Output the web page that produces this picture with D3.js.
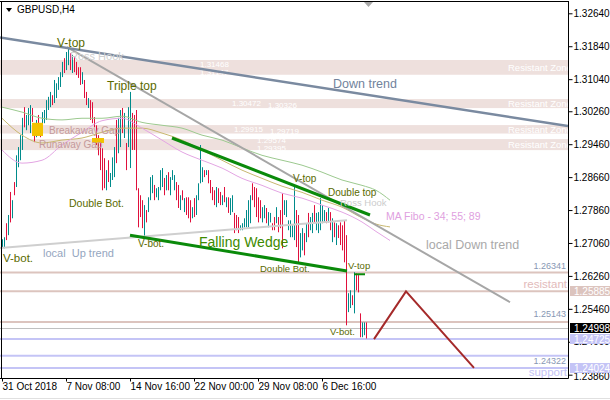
<!DOCTYPE html>
<html><head><meta charset="utf-8">
<script src="https://cdn.jsdelivr.net/npm/d3@7"></script>
<style>
body{margin:0;background:#fff}
svg{display:block;font-family:"Liberation Sans",Arial,sans-serif}
</style></head>
<body><svg id="c" width="610" height="400"></svg>
<script>
// ---------------- DATA ----------------
const highs=[1.2715,1.2720,1.2754,1.2774,1.2830,1.2810,1.2854,1.2919,1.2939,1.2968,
1.3010,1.3036,1.3017,1.3034,1.3041,1.3034,1.2997,1.3005,1.3017,1.2992,
1.3024,1.3029,1.3053,1.3061,1.3073,1.3065,1.3102,1.3094,1.3109,1.3121,
1.3146,1.3155,1.3170,1.3180,1.3167,1.3163,1.3158,1.3146,1.3133,1.3133,
1.3121,1.3102,1.3073,1.3058,1.3053,1.3048,1.3012,1.2992,1.2968,1.2956,
1.2936,1.2912,1.2883,1.2907,1.2876,1.2914,1.2939,1.3005,1.3010,1.3029,
1.3034,1.3022,1.2949,1.3036,1.3073,1.3022,1.3017,1.3029,1.2839,1.2822,
1.2810,1.2798,1.2786,1.2817,1.2866,1.2871,1.2847,1.2839,1.2842,1.2883,
1.2888,1.2864,1.2871,1.2878,1.2866,1.2883,1.2871,1.2854,1.2847,1.2822,
1.2834,1.2815,1.2817,1.2817,1.2810,1.2793,1.2815,1.2822,1.2851,1.2944,
1.2890,1.2883,1.2883,1.2883,1.2859,1.2842,1.2834,1.2842,1.2839,1.2830,
1.2822,1.2842,1.2817,1.2817,1.2815,1.2822,1.2779,1.2774,1.2769,1.2749,
1.2754,1.2766,1.2786,1.2810,1.2822,1.2851,1.2842,1.2839,1.2817,1.2810,
1.2793,1.2798,1.2791,1.2781,1.2779,1.2754,1.2769,1.2793,1.2769,1.2786,
1.2827,1.2810,1.2810,1.2761,1.2761,1.2749,1.2844,1.2786,1.2774,1.2730,
1.2742,1.2730,1.2754,1.2779,1.2769,1.2779,1.2798,1.2779,1.2781,1.2815,
1.2798,1.2786,1.2781,1.2791,1.2781,1.2766,1.2756,1.2754,1.2749,1.2756,
1.2749,1.2761,1.2725,1.2584,1.2591,1.2579,1.2635,1.2632,1.2628,1.2535,
1.2513,1.2513,1.2513];
const lows=[1.2696,1.2693,1.2713,1.2725,1.2756,1.2766,1.2822,1.2842,1.2890,1.2907,
1.2932,1.2987,1.2980,1.2992,1.2973,1.3000,1.2951,1.2963,1.2980,1.2963,
1.2968,1.2997,1.3005,1.3029,1.3036,1.3041,1.3046,1.3058,1.3078,1.3085,
1.3109,1.3119,1.3126,1.3138,1.3126,1.3119,1.3121,1.3114,1.3107,1.3090,
1.3092,1.3058,1.3041,1.3034,1.3005,1.2997,1.2987,1.2944,1.2919,1.2883,
1.2834,1.2839,1.2834,1.2854,1.2842,1.2859,1.2866,1.2900,1.2924,1.2939,
1.2973,1.2961,1.2883,1.2939,1.2888,1.2932,1.2932,1.2834,1.2744,1.2769,
1.2742,1.2723,1.2756,1.2781,1.2810,1.2827,1.2810,1.2817,1.2810,1.2834,
1.2842,1.2822,1.2834,1.2834,1.2822,1.2859,1.2834,1.2810,1.2791,1.2786,
1.2810,1.2781,1.2774,1.2766,1.2756,1.2766,1.2769,1.2774,1.2810,1.2851,
1.2854,1.2866,1.2871,1.2851,1.2827,1.2810,1.2798,1.2793,1.2803,1.2798,
1.2798,1.2805,1.2793,1.2779,1.2774,1.2781,1.2730,1.2737,1.2730,1.2737,
1.2737,1.2744,1.2744,1.2744,1.2754,1.2810,1.2793,1.2769,1.2756,1.2766,
1.2756,1.2766,1.2754,1.2744,1.2756,1.2737,1.2737,1.2754,1.2732,1.2742,
1.2693,1.2774,1.2769,1.2737,1.2720,1.2720,1.2713,1.2696,1.2659,1.2671,
1.2688,1.2676,1.2708,1.2720,1.2737,1.2730,1.2754,1.2737,1.2730,1.2737,
1.2754,1.2756,1.2754,1.2756,1.2737,1.2708,1.2720,1.2701,1.2718,1.2701,
1.2688,1.2659,1.2506,1.2538,1.2548,1.2555,1.2535,1.2591,1.2586,1.2477,
1.2477,1.2482,1.2474];
const dirs=("uudududuuu"+"uduuuddudd"+"uuuuuduuuu"+"uduududddd"+"uddudddddd"+
"dduduuuduu"+"duduuddddd"+"duduuuduuu"+"ududuuuddu"+"duddduduuu"+
"ududdddudd"+"ududuudddu"+"uuuuuddddd"+"uuduuddudd"+"duuuuuuddu"+
"ududuuduuu"+"uududududd"+"ddduududdd"+"uud").split("");

// moving averages: bar index -> value
const maIdx =[0,10,20,30,40,50,60,70,80,90,100,110,120,130,140,150,160,170,180,187,194];
const ma34  =[1.2932,1.2900,1.2907,1.2944,1.2975,1.3003,1.3009,1.2985,1.2956,1.2927,1.2907,1.2888,1.2863,1.2846,1.2827,1.2815,1.2798,1.2781,1.2757,1.2734,1.2712];
const ma55  =[1.3009,1.2968,1.2949,1.2956,1.2961,1.2975,1.2985,1.2985,1.2973,1.2956,1.2932,1.2907,1.2883,1.2863,1.2844,1.2829,1.2810,1.2793,1.2767,1.2752,1.2745];
const ma89  =[1.3036,1.3024,1.3009,1.3005,1.3009,1.3009,1.3014,1.2999,1.2992,1.2985,1.2968,1.2956,1.2937,1.2919,1.2907,1.2895,1.2878,1.2859,1.2846,1.2834,1.2810];

const yTicks=[1.32640,1.31840,1.31040,1.30260,1.29460,1.28660,1.27860,1.27060,1.26260,1.25460,1.24660,1.23860];
const xTickIdx=[0,32,64,96,128,160];
const xTickLabels=["31 Oct 2018","7 Nov 08:00","14 Nov 16:00","22 Nov 00:00","29 Nov 08:00","6 Dec 16:00"];

const zones=[[1.31147,1.31505],[1.30337,1.30556],[1.29719,1.29924],[1.29316,1.29584]];
// zone price labels: text, bar index of left edge, price, vertical nudge
const zoneLabels=[["1.31468",99,1.31468,5],["1.31147",99,1.31147,0],["1.30472",115,1.30472,3],["1.30326",133,1.30326,-1],
  ["1.29915",116,1.29915,7],["1.29719",134,1.29719,0],["1.29574",127.5,1.29574,3.5],["1.29395",127.5,1.29395,4]];
const pinkLevels=[1.26341,1.25885,1.25143];
const blueLevels=[1.24725,1.24322,1.24024];
const lastPrice=1.24998;

// trend lines [i1,p1,i2,p2]
const downTrend=[-1,1.3205,283,1.2990];
const localDown=[32.5,1.3182,254,1.2562];
const localUp=[-1,1.2694,172.5,1.2761];
const wedgeTop=[85,1.2961,184,1.2774];
const wedgeBot=[64,1.2725,172.5,1.2638];
const vtopLine=[176,1.2630,181.5,1.2630];
const zigIdx=[186,202,236];
const zigVal=[1.24725,1.25885,1.24024];

// ---------------- CHART ----------------
const svg=d3.select("#c");
const W=568, TOP=1.5, BOT=378;
const x=d3.scaleLinear().domain([0,183]).range([2,368]);
const y=d3.scaleLinear().domain([1.2386,1.3264]).range([374.7,13.3]);

svg.append("defs").append("clipPath").attr("id","plot").append("rect")
  .attr("x",0).attr("y",TOP).attr("width",W).attr("height",BOT-TOP);
const g=svg.append("g").attr("clip-path","url(#plot)");

// zones
g.selectAll(".zone").data(zones).join("rect")
  .attr("x",0).attr("width",W)
  .attr("y",d=>y(d[1])).attr("height",d=>y(d[0])-y(d[1]))
  .attr("fill","#eee0dd");
g.selectAll(".zl").data(zoneLabels).join("text")
  .attr("x",d=>x(d[1])).attr("y",d=>y(d[2])+d[3])
  .attr("font-size",8).attr("fill","#fff").text(d=>d[0]);
g.selectAll(".rz").data(zones).join("text")
  .attr("x",508).attr("y",d=>(y(d[0])+y(d[1]))/2+3.5)
  .attr("font-size",9.5).attr("fill","#fff").text("Resistant Zone");

// horizontal levels
g.selectAll(".pl").data(pinkLevels).join("line")
  .attr("x1",0).attr("x2",W).attr("y1",d=>y(d)).attr("y2",d=>y(d))
  .attr("stroke","#dcc4be").attr("stroke-width",2);
g.selectAll(".bl").data(blueLevels).join("line")
  .attr("x1",0).attr("x2",W).attr("y1",d=>y(d)).attr("y2",d=>y(d))
  .attr("stroke","#c4c4f6").attr("stroke-width",2);
g.append("line").attr("x1",0).attr("x2",W).attr("y1",Math.round(y(lastPrice))+0.5).attr("y2",Math.round(y(lastPrice))+0.5)
  .attr("stroke","#c0c0c0").attr("stroke-width",1);

// candles
const bars=d3.range(highs.length);
g.selectAll(".cd").data(bars).join("line")
  .attr("x1",i=>Math.round(x(i))+0.5).attr("x2",i=>Math.round(x(i))+0.5)
  .attr("y1",i=>y(highs[i])).attr("y2",i=>y(lows[i]))
  .attr("stroke",i=>dirs[i]==="u"?"#008b8b":"#e0103c").attr("stroke-width",1);

// MAs
const maLine=vals=>d3.line().curve(d3.curveMonotoneX).x((d,k)=>x(maIdx[k])).y(d=>y(d))(vals);
[[ma89,"#9cc98f"],[ma55,"#c8b870"],[ma34,"#e3a5e3"]].forEach(([v,c])=>{
  g.append("path").attr("d",maLine(v)).attr("fill","none").attr("stroke",c).attr("stroke-width",1);
});

// gap markers
g.append("rect").attr("x",x(15)).attr("y",y(1.2998)).attr("width",x(20.5)-x(15)).attr("height",y(1.2966)-y(1.2998)).attr("fill","#f2c200");
g.append("rect").attr("x",x(45)).attr("y",y(1.2961)).attr("width",x(51)-x(45)).attr("height",y(1.2949)-y(1.2961)).attr("fill","#f2c200");

// trend lines
function tl(d,color,w){
  g.append("line").attr("x1",x(d[0])).attr("y1",y(d[1])).attr("x2",x(d[2])).attr("y2",y(d[3]))
   .attr("stroke",color).attr("stroke-width",w);
}
tl(localUp,"#cfcfcf",2);
tl(localDown,"#a6a6a6",2);
tl(downTrend,"#7a8aa0",2.5);
tl(wedgeTop,"#0a8a0a",3);
tl(wedgeBot,"#0a8a0a",3);
tl(vtopLine,"#0a8a0a",2);
g.append("path").attr("d",d3.line().x((d,k)=>x(zigIdx[k])).y(d=>y(d))(zigVal))
  .attr("fill","none").attr("stroke","#a52a2a").attr("stroke-width",2);

// texts
const olive="#5a6a00";
const texts=[
 ["V-top",57,47,12,olive,"start"],["Ross Hook",70,60,11,"#cfcfcf","start"],["Triple top",107,90,12,olive,"start"],
 ["Breakaway Gap",49,134,10,"#c4999a","start"],["Runaway Gap",39,148,10,"#c4999a","start"],
 ["Double Bot.",69,207,10.5,olive,"start"],["V-bot.",3,262,11.5,olive,"start"],["local  Up trend",43,257,11,"#95a6c0","start"],
 ["V-bot.",138,247,10,olive,"start"],["Falling Wedge",199,247,14,"#3d8a00","start"],
 ["V-top",293,182,10,olive,"start"],["Double top",328,195.5,10,olive,"start"],["Ross Hook",340,206,9.5,"#cccccc","start"],
 ["MA Fibo - 34; 55; 89",386,220,10.5,"#e0a0e0","start"],["local Down trend",426,249,12.5,"#a9a9a9","start"],
 ["Double Bot.",260,272,9.5,olive,"start"],["V-top",348,269,9.5,olive,"start"],["V-bot.",330,335,9.5,olive,"start"],
 ["Down trend",333,88,12.5,"#72839c","start"],
 ["1.26341",566,269,9,"#8898b4","end"],["resistant",567,288,11.5,"#e2baba","end"],["1.25143",566,317,9,"#8898b4","end"],
 ["1.24322",566,364,9,"#8898b4","end"],["support",567,376,11.5,"#c4c4f6","end"]
];
g.selectAll(".tx").data(texts).join("text")
  .attr("x",d=>d[1]).attr("y",d=>d[2]).attr("font-size",d=>d[3]).attr("fill",d=>d[4])
  .attr("text-anchor",d=>d[5]).style("white-space","pre").text(d=>d[0]);

// frame
svg.append("line").attr("x1",0).attr("x2",W).attr("y1",1.5).attr("y2",1.5).attr("stroke","#000");
svg.append("line").attr("x1",1.5).attr("x2",1.5).attr("y1",1).attr("y2",BOT).attr("stroke","#000");
svg.append("line").attr("x1",W+0.5).attr("x2",W+0.5).attr("y1",1).attr("y2",BOT+0.5).attr("stroke","#000");
svg.append("line").attr("x1",0).attr("x2",610).attr("y1",398.5).attr("y2",398.5).attr("stroke","#e0e0e0");

// right axis
const ya=svg.append("g").attr("transform",`translate(${W+0.5},0)`)
  .call(d3.axisRight(y).tickValues(yTicks).tickSize(4).tickSizeOuter(0).tickFormat(d3.format(".5f")));
ya.select(".domain").remove();
ya.selectAll("text").attr("x",5).attr("font-size",10).attr("font-family","Liberation Sans, Arial").attr("fill","#000")
  .attr("dy",d=>d===1.23860?"0.5em":"0.32em");
ya.selectAll("line").attr("stroke","#000");

// bottom axis
const xa=svg.append("g").attr("transform",`translate(0,${BOT+0.5})`)
  .call(d3.axisBottom(x).tickValues(xTickIdx).tickSize(3).tickSizeOuter(0).tickFormat((d,k)=>xTickLabels[k]));
xa.select(".domain").attr("d",`M0,0H${W+0.5}`).attr("stroke","#000");
xa.selectAll("text").attr("text-anchor","start").attr("x",0).attr("dy","0.9em").attr("y",2)
  .attr("font-size",10).attr("font-family","Liberation Sans, Arial").attr("fill","#000");
xa.selectAll(".tick line").attr("stroke","#000");
xa.selectAll(".tick").attr("transform",d=>`translate(${Math.round(x(d))+0.5},0)`);

// price boxes
const boxes=[[1.25885,"#dcc4be"],[lastPrice,"#000"],[1.24725,"#c4c4f6"],[1.24024,"#c4c4f6"]];
boxes.forEach(([p,c])=>{
  const yy=Math.round(y(p));
  svg.append("rect").attr("x",570).attr("y",yy-5).attr("width",40).attr("height",10).attr("fill",c);
  svg.append("text").attr("x",574).attr("y",yy+3.5).attr("font-size",10).attr("fill","#fff").text(p.toFixed(5));
});

// header
svg.append("path").attr("d","M6,8L12,8L9,12Z").attr("fill","#000");
svg.append("text").attr("x",17).attr("y",13).attr("font-size",10).attr("fill","#000").text("GBPUSD,H4");
svg.append("path").attr("d","M364,2L373,2L368.5,7Z").attr("fill","#a8a8a8");
</script></body></html>
